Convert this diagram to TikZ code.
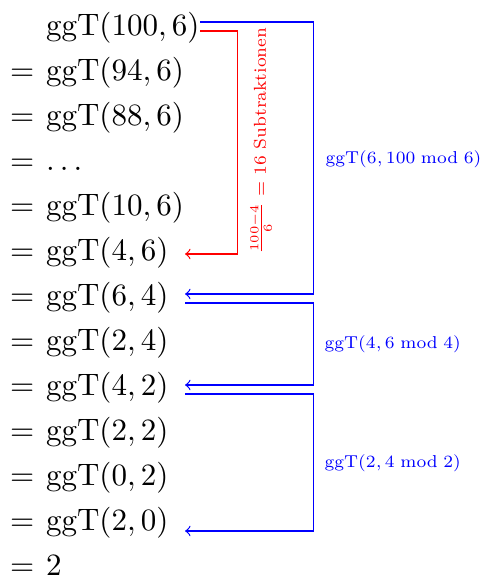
\documentclass[tikz,border=0pt]{standalone}
\usepackage{amsmath}
\begin{document}
\begin{tikzpicture}[x=0.33333pt,y=-0.33333pt,
  row/.style={anchor=base west,inner sep=0pt,outer sep=0pt},
  bluelink/.style={blue,line width=0.4pt},
  redlink/.style={red,line width=0.4pt},
  bluelab/.style={blue,anchor=base west,inner sep=0pt,font=\scriptsize},
  redlab/.style={red,inner sep=0pt,font=\scriptsize,rotate=90},
  >=to]
\useasboundingbox (0,0) rectangle (480,581);
\newcommand\rowtext[1]{\scalebox{1.035}{$#1$}}
\newcommand\labtext[1]{\scalebox{0.82}{#1}}
% rows
\node[row] (r1) at (46,35) {\rowtext{\mathrm{ggT}(100,6)}};
\foreach \i/\t in {2/{\mathrm{ggT}(94,6)},3/{\mathrm{ggT}(88,6)},4/{\dots},
  5/{\mathrm{ggT}(10,6)},6/{\mathrm{ggT}(4,6)},7/{\mathrm{ggT}(6,4)},
  8/{\mathrm{ggT}(2,4)},9/{\mathrm{ggT}(4,2)},10/{\mathrm{ggT}(2,2)},
  11/{\mathrm{ggT}(0,2)},12/{\mathrm{ggT}(2,0)},13/{2}}{
  \node[row] (e\i) at (10,{35+45*(\i-1)}) {\rowtext{=}};
  \node[row] (r\i) at (46,{35+45*(\i-1)}) {\rowtext{\t}};
}
% connector end points
\coordinate (s1b) at (200,22);
\coordinate (s1r) at (200,31);
\coordinate (t6) at (185,254);
\coordinate (t7) at (185,294);
\coordinate (s7) at (185,303);
\coordinate (t9) at (185,385);
\coordinate (s9) at (185,394);
\coordinate (t12) at (185,531);
\coordinate (xr) at (237.5,0);
\coordinate (xb) at (313.5,0);
% connectors
\draw[redlink,->] (s1r) -- (s1r -| xr) |- (t6);
\draw[bluelink,->] (s1b) -- (s1b -| xb) |- (t7);
\draw[bluelink,->] (s7) -- (s7 -| xb) |- (t9);
\draw[bluelink,->] (s9) -- (s9 -| xb) |- (t12);
% labels
\node[bluelab] (l1) at (325,163) {\labtext{$\mathrm{ggT}(6, 100 \bmod 6)$}};
\node[bluelab] (l2) at (324,348) {\labtext{$\mathrm{ggT}(4, 6 \bmod 4)$}};
\node[bluelab] (l3) at (324,467) {\labtext{$\mathrm{ggT}(2, 4 \bmod 2)$}};
\node[redlab] (l0) at (261,141) {\labtext{$\frac{100-4}{6} = 16$ Subtraktionen}};
\end{tikzpicture}
\end{document}
